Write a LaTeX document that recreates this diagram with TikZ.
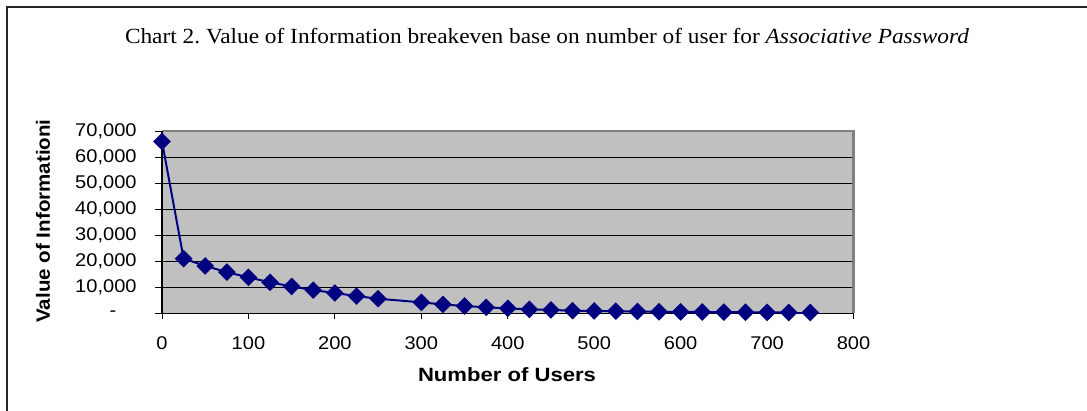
\documentclass[tikz,border=0pt]{standalone}
\usepackage{fontspec}
\setmainfont{Liberation Serif}
\setsansfont{Liberation Sans}
\usetikzlibrary{shapes.geometric}
\frenchspacing

\definecolor{plotgray}{HTML}{C0C0C0}
\definecolor{edgegray}{HTML}{808080}
\definecolor{navyline}{HTML}{000080}

\tikzset{
  ticklbl/.style={font=\sffamily\fontsize{9.2}{10}\selectfont, xscale=1.09, inner sep=0pt},
  axistitle/.style={font=\sffamily\bfseries\fontsize{9.6}{11}\selectfont, inner sep=0pt},
  datamark/.style={diamond, fill=navyline, inner sep=0pt, minimum size=9pt},
}

\begin{document}
\begin{tikzpicture}[x=0.5pt,y=0.5pt]
  \useasboundingbox (0,0) rectangle (1087,411);
  % frame
  \draw[line width=1pt, black!85] (7,0) -- (7,403.5) -- (1087,403.5);
  \node[font=\fontsize{10.8}{12}\selectfont, xscale=1.08] (title) at (547,375)
    {Chart 2. Value of Information breakeven base on number of user for \textit{Associative Password}};
  \node[axistitle, rotate=90, xscale=1.07] (ylabel) at (43,190) {Value of Informationi};
  \node[axistitle, xscale=1.15] (xlabel) at (507,36) {Number of Users};

  % plot area: users on x, thousands on y
  \begin{scope}[shift={(162,97.7)}, x=0.4322pt, y=1.302pt]
    \fill[plotgray] (0,0) rectangle (800,70);
    \foreach \v in {10,20,...,60}
      \draw[line width=0.5pt] (0,\v) -- (800,\v);
    \draw[edgegray, line width=1.2pt] (0,70) -- (800,70) -- (800,0);
    \draw[line width=0.6pt] (0,70) -- (0,0) -- (800,0);
    \foreach \v in {0,10,...,70}
      \draw[line width=0.5pt] (0,\v) -- ++(-3.5pt,0);
    \foreach \u in {0,100,...,800}{
      \draw[line width=0.5pt] (\u,0) -- ++(0,-3pt);
      \node[ticklbl] (xtick\u) at ([yshift=-14.9pt]\u,0) {\u};
    }
    \foreach \v in {1,...,7}
      \node[ticklbl, anchor=east] (ytick\v) at ([xshift=-12.5pt]0,\v0) {\v0,000};
    \node[ticklbl] (ytick0) at ([xshift=-24.5pt]0,0) {-};

    % data
    \foreach \u/\v [remember=\u as \lastu (initially 0)] in
      {0/66,25/21,50/18.2,75/15.8,100/13.8,125/11.9,150/10.3,175/8.9,200/7.8,
       225/6.6,250/5.6,300/4.2,325/3.4,350/2.8,375/2.3,400/1.9,425/1.5,450/1.3,
       475/1.0,500/0.9,525/0.8,550/0.7,575/0.6,600/0.55,625/0.5,650/0.45,
       675/0.4,700/0.35,725/0.3,750/0.3}{
      \node[datamark] (m\u) at (\u,\v) {};
      \draw[navyline, line width=1pt] (m\lastu.center) -- (m\u.center);
    }
  \end{scope}
\end{tikzpicture}
\end{document}
